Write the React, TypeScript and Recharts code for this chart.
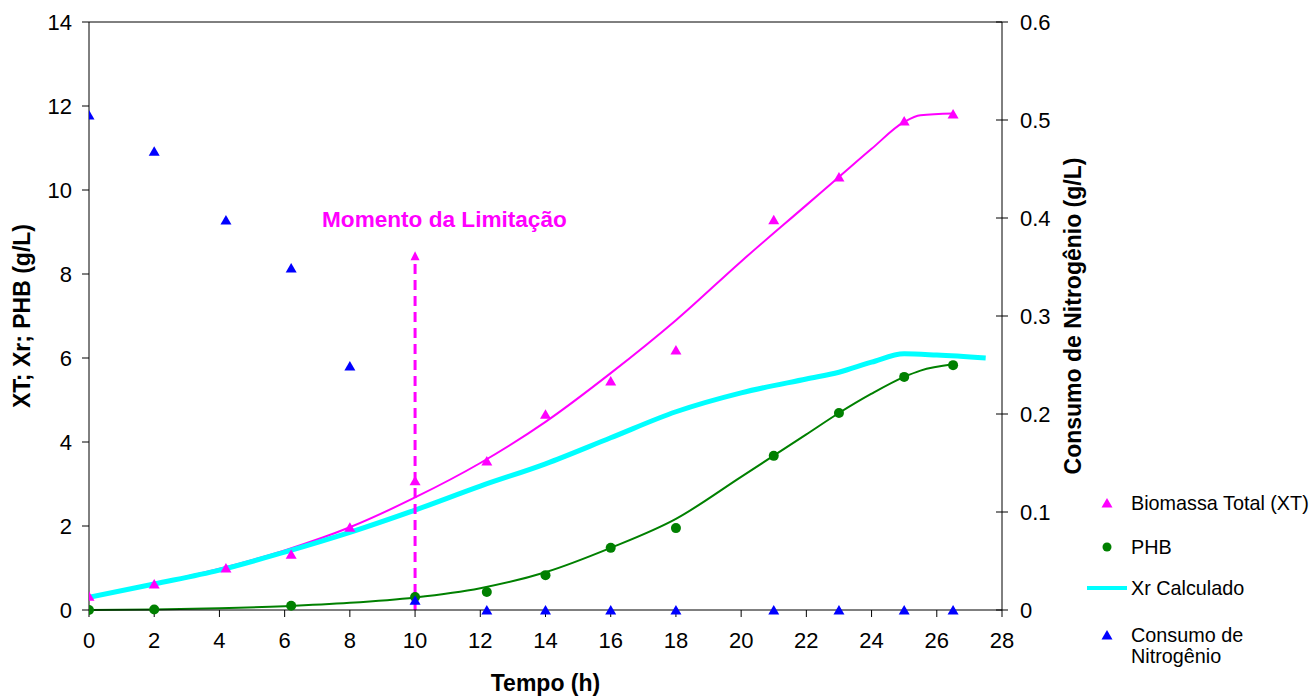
import React from "react";
import {
  ComposedChart,
  Line,
  Scatter,
  XAxis,
  YAxis,
  ReferenceLine,
  ReferenceDot,
} from "recharts";

// amostras medidas
const tempoAmostras = [0, 2, 4.2, 6.2, 8, 10, 12.2, 14, 16, 18, 21, 23, 25, 26.5];
const biomassaTotal = [0.33, 0.62, 1.0, 1.33, 1.97, 3.08, 3.55, 4.66, 5.45, 6.19, 9.29, 10.31, 11.64, 11.81];
const phb = [0, 0.01, null, 0.1, null, 0.31, 0.43, 0.83, 1.48, 1.95, 3.67, 4.69, 5.55, 5.83];
const nitrogenio = [0.505, 0.468, 0.398, 0.349, 0.249, 0.01, 0, 0, 0, 0, 0, 0, 0, 0];

// curvas de ajuste
const tempoAjuste = [0, 2, 4, 6, 8, 10, 12, 14, 16, 18, 20, 22, 23, 24, 25, 25.5, 26.5];
const biomassaAjuste = [0.3, 0.62, 0.98, 1.42, 1.97, 2.68, 3.5, 4.48, 5.64, 6.9, 8.3, 9.64, 10.31, 10.98, 11.62, 11.78, 11.82];
const phbAjuste = [0, 0.01, 0.04, 0.09, 0.17, 0.3, 0.52, 0.9, 1.48, 2.17, 3.17, 4.18, 4.69, 5.15, 5.55, 5.7, 5.85];

const tempoXr = [0, 2, 4, 6, 8, 10, 12, 14, 16, 18, 20, 22, 23, 24, 25, 26, 27.5];
const xrCalculado = [0.3, 0.62, 0.95, 1.38, 1.85, 2.38, 2.95, 3.48, 4.1, 4.72, 5.17, 5.5, 5.66, 5.9, 6.1, 6.07, 6.0];

// momento da limitação de nitrogênio
const tempoLimitacao = 10;
const topoSeta = 8.35;
const textoLimitacao = { t: 10.9, y: 9.29, texto: "Momento da Limitação" };

const ticksTempo = [0, 2, 4, 6, 8, 10, 12, 14, 16, 18, 20, 22, 24, 26, 28];
const ticksEsq = [0, 2, 4, 6, 8, 10, 12, 14];
const ticksDir = [0, 0.1, 0.2, 0.3, 0.4, 0.5, 0.6];

const FONTE = "'Liberation Sans', Arial, Helvetica, sans-serif";
const MAGENTA = "#FF00FF";
const VERDE = "#008000";
const AZUL = "#0000FF";
const CIANO = "#00FFFF";
const TAM_TICK = 22;
const TAM_TITULO = 23;

const dadosBiomassa = tempoAmostras.map((t, i) => ({ t, v: biomassaTotal[i] }));
const dadosPhb = tempoAmostras
  .map((t, i) => ({ t, v: phb[i] }))
  .filter((d) => d.v !== null);
const dadosNitrogenio = tempoAmostras.map((t, i) => ({ t, v: nitrogenio[i] }));
const dadosBiomassaAjuste = tempoAjuste.map((t, i) => ({ t, v: biomassaAjuste[i] }));
const dadosPhbAjuste = tempoAjuste.map((t, i) => ({ t, v: phbAjuste[i] }));
const dadosXr = tempoXr.map((t, i) => ({ t, v: xrCalculado[i] }));

const triangulo = (cor: string) => (props: any) => {
  const { cx, cy } = props;
  return (
    <polygon
      points={`${cx},${cy - 5} ${cx - 5.5},${cy + 4.5} ${cx + 5.5},${cy + 4.5}`}
      fill={cor}
    />
  );
};

const circulo = (props: any) => <circle cx={props.cx} cy={props.cy} r={5} fill={VERDE} />;

const TickDireito = (props: any) => {
  const { x, y, payload } = props;
  return (
    <g>
      <line x1={x - 24} x2={x - 12} y1={y} y2={y} stroke="#000" strokeWidth={1} />
      <text x={x} y={y} dy="0.36em" textAnchor="start" fill="#000" fontSize={TAM_TICK} fontFamily={FONTE}>
        {payload.value}
      </text>
    </g>
  );
};

const TickTempo = (props: any) => {
  const { x, payload } = props;
  return (
    <text x={x} y={640} dy="0.36em" textAnchor="middle" fill="#000" fontSize={TAM_TICK} fontFamily={FONTE}>
      {payload.value}
    </text>
  );
};

const tituloVertical = (texto: string, dx: number) => (props: any) => {
  const { x, y, height } = props.viewBox;
  const cx = x + dx;
  const cy = y + height / 2;
  return (
    <text
      x={cx}
      y={cy}
      transform={`rotate(-90, ${cx}, ${cy})`}
      textAnchor="middle"
      dominantBaseline="central"
      fontFamily={FONTE}
      fontSize={TAM_TITULO}
      fontWeight="bold"
      fill="#000"
    >
      {texto}
    </text>
  );
};

const tituloTempo = (props: any) => {
  const { x, width } = props.viewBox;
  return (
    <text x={x + width / 2} y={691} textAnchor="middle" fontFamily={FONTE} fontSize={TAM_TITULO} fontWeight="bold" fill="#000">
      Tempo (h)
    </text>
  );
};

const pontaSeta = (props: any) => {
  const { cx, cy } = props;
  return <polygon points={`${cx},${cy - 8} ${cx - 4.5},${cy + 1} ${cx + 4.5},${cy + 1}`} fill={MAGENTA} />;
};

const rotuloLimitacao = (props: any) => {
  const { cx, cy } = props;
  return (
    <text x={cx} y={cy} textAnchor="middle" dominantBaseline="central" fontFamily={FONTE} fontSize={22.6} fontWeight="bold" fill={MAGENTA}>
      {textoLimitacao.texto}
    </text>
  );
};

const Legenda = () => (
  <svg
    width={236}
    height={190}
    style={{ position: "absolute", left: 1080, top: 488, overflow: "visible" }}
    fontFamily={FONTE}
    fontSize={19.8}
  >
    <polygon points="27,10 21.5,19.5 32.5,19.5" fill={MAGENTA} />
    <text x={51} y={15} dy="0.36em" fill="#000">Biomassa Total (XT)</text>
    <circle cx={27} cy={59} r={4.5} fill={VERDE} />
    <text x={51} y={59} dy="0.36em" fill="#000">PHB</text>
    <line x1={7} x2={47} y1={100} y2={100} stroke={CIANO} strokeWidth={4} />
    <text x={51} y={100} dy="0.36em" fill="#000">Xr Calculado</text>
    <polygon points="27,142 21.5,151.5 32.5,151.5" fill={AZUL} />
    <text x={51} y={147} dy="0.36em" fill="#000">Consumo de</text>
    <text x={51} y={168} dy="0.36em" fill="#000">Nitrogênio</text>
  </svg>
);

export default function App() {
  return (
    <div style={{ position: "absolute", left: 0, top: 0, width: 1316, height: 698, background: "#fff" }}>
      <ComposedChart width={1316} height={698} margin={{ top: 22, right: 214, bottom: 0, left: 0 }}>
        <XAxis
          dataKey="t"
          type="number"
          domain={[0, 28]}
          ticks={ticksTempo}
          allowDataOverflow
          height={88}
          tickSize={7}
          stroke="#000"
          tick={<TickTempo />}
          label={{ content: tituloTempo }}
        />
        <YAxis
          yAxisId="esq"
          type="number"
          domain={[0, 14]}
          ticks={ticksEsq}
          width={89}
          tickSize={7}
          tickMargin={10}
          stroke="#000"
          tick={{ fill: "#000", fontSize: TAM_TICK, fontFamily: FONTE }}
          label={{ content: tituloVertical("XT; Xr; PHB (g/L)", 22) }}
        />
        <YAxis
          yAxisId="dir"
          orientation="right"
          type="number"
          domain={[0, 0.6]}
          ticks={ticksDir}
          width={100}
          tickSize={6}
          tickMargin={12}
          tickLine={false}
          stroke="#000"
          tick={<TickDireito />}
          label={{ content: tituloVertical("Consumo de Nitrogênio (g/L)", 71) }}
        />
        <ReferenceLine yAxisId="esq" y={14} stroke="#000" />

        <Line
          yAxisId="esq"
          data={dadosPhbAjuste}
          dataKey="v"
          type="monotone"
          stroke={VERDE}
          strokeWidth={2}
          dot={false}
          isAnimationActive={false}
        />
        <Line
          yAxisId="esq"
          data={dadosBiomassaAjuste}
          dataKey="v"
          type="monotone"
          stroke={MAGENTA}
          strokeWidth={2}
          dot={false}
          isAnimationActive={false}
        />
        <Line
          yAxisId="esq"
          data={dadosXr}
          dataKey="v"
          type="monotone"
          stroke={CIANO}
          strokeWidth={5}
          dot={false}
          isAnimationActive={false}
        />
        <Scatter yAxisId="esq" data={dadosBiomassa} dataKey="v" shape={triangulo(MAGENTA)} isAnimationActive={false} />
        <Scatter yAxisId="esq" data={dadosPhb} dataKey="v" shape={circulo} isAnimationActive={false} />

        <ReferenceLine
          yAxisId="esq"
          segment={[
            { x: tempoLimitacao, y: 0 },
            { x: tempoLimitacao, y: topoSeta },
          ]}
          stroke={MAGENTA}
          strokeWidth={3}
          strokeDasharray="10 6"
        />
        <ReferenceDot yAxisId="esq" x={tempoLimitacao} y={topoSeta} shape={pontaSeta} />
        <ReferenceDot yAxisId="esq" x={textoLimitacao.t} y={textoLimitacao.y} shape={rotuloLimitacao} />

        <Scatter yAxisId="dir" data={dadosNitrogenio} dataKey="v" shape={triangulo(AZUL)} isAnimationActive={false} />
      </ComposedChart>
      <Legenda />
    </div>
  );
}
